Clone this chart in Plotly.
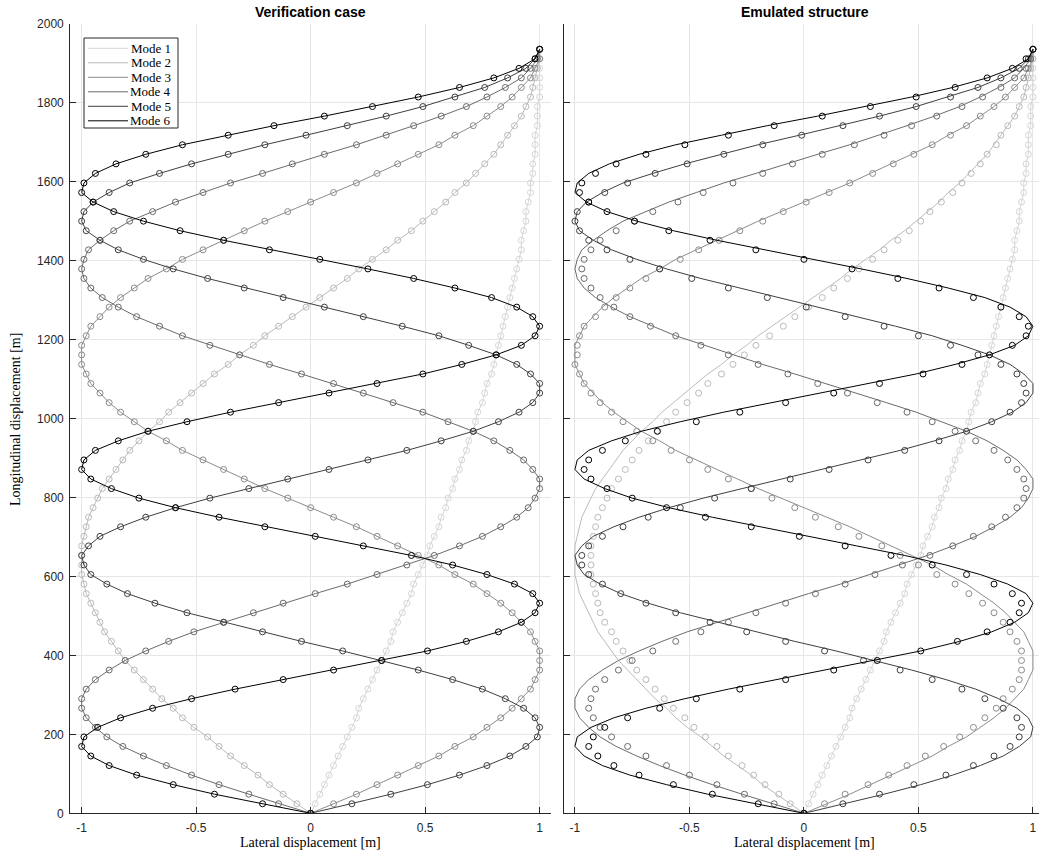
import plotly.graph_objects as go

# ---------------- data ----------------
# node heights along the structure [m]
HEIGHTS = [0.0, 24.2, 48.4, 72.6, 96.8, 121.0, 145.2, 169.4, 193.6, 217.8,
           242.0, 266.2, 290.4, 314.6, 338.8, 363.0, 387.2, 411.4, 435.6, 459.8,
           484.0, 508.2, 532.4, 556.6, 580.8, 605.0, 629.2, 653.4, 677.6, 701.8,
           726.0, 750.2, 774.4, 798.6, 822.8, 847.0, 871.2, 895.4, 919.6, 943.8,
           968.0, 992.2, 1016.4, 1040.6, 1064.8, 1089.0, 1113.2, 1137.4, 1161.6, 1185.8,
           1210.0, 1234.2, 1258.4, 1282.6, 1306.8, 1331.0, 1355.2, 1379.4, 1403.6, 1427.8,
           1452.0, 1476.2, 1500.4, 1524.6, 1548.8, 1573.0, 1597.2, 1621.4, 1645.6, 1669.8,
           1694.0, 1718.2, 1742.4, 1766.6, 1790.8, 1815.0, 1839.2, 1863.4, 1887.6, 1911.8,
           1936.0]

# verification case mode shapes (lateral displacement [m])
VER_MODE1 = [0.00, 0.02, 0.04, 0.06, 0.08, 0.10, 0.12, 0.14, 0.16, 0.18,
             0.20, 0.21, 0.23, 0.25, 0.27, 0.29, 0.31, 0.33, 0.35, 0.36,
             0.38, 0.40, 0.42, 0.44, 0.45, 0.47, 0.49, 0.51, 0.52, 0.54,
             0.56, 0.57, 0.59, 0.60, 0.62, 0.63, 0.65, 0.66, 0.68, 0.69,
             0.71, 0.72, 0.73, 0.75, 0.76, 0.77, 0.79, 0.80, 0.81, 0.82,
             0.83, 0.84, 0.85, 0.86, 0.87, 0.88, 0.89, 0.90, 0.91, 0.92,
             0.92, 0.93, 0.94, 0.94, 0.95, 0.96, 0.96, 0.97, 0.97, 0.98,
             0.98, 0.98, 0.99, 0.99, 0.99, 1.00, 1.00, 1.00, 1.00, 1.00,
             1.00]
VER_MODE2 = [0.00, -0.06, -0.12, -0.18, -0.23, -0.29, -0.35, -0.40, -0.45, -0.51,
             -0.56, -0.60, -0.65, -0.69, -0.73, -0.77, -0.81, -0.84, -0.87, -0.90,
             -0.92, -0.94, -0.96, -0.98, -0.99, -1.00, -1.00, -1.00, -1.00, -0.99,
             -0.98, -0.97, -0.95, -0.93, -0.91, -0.88, -0.85, -0.82, -0.79, -0.75,
             -0.71, -0.66, -0.62, -0.57, -0.52, -0.47, -0.42, -0.36, -0.31, -0.25,
             -0.20, -0.14, -0.08, -0.02, 0.04, 0.10, 0.16, 0.21, 0.27, 0.33,
             0.38, 0.44, 0.49, 0.54, 0.59, 0.63, 0.68, 0.72, 0.76, 0.80,
             0.83, 0.86, 0.89, 0.92, 0.94, 0.96, 0.97, 0.98, 0.99, 1.00,
             1.00]
VER_MODE3 = [0.00, 0.10, 0.20, 0.29, 0.38, 0.47, 0.56, 0.63, 0.71, 0.77,
             0.83, 0.88, 0.92, 0.96, 0.98, 1.00, 1.00, 1.00, 0.98, 0.96,
             0.92, 0.88, 0.83, 0.77, 0.71, 0.63, 0.56, 0.47, 0.38, 0.29,
             0.20, 0.10, 0.00, -0.10, -0.20, -0.29, -0.38, -0.47, -0.56, -0.63,
             -0.71, -0.77, -0.83, -0.88, -0.92, -0.96, -0.98, -1.00, -1.00, -1.00,
             -0.98, -0.96, -0.92, -0.88, -0.83, -0.77, -0.71, -0.63, -0.56, -0.47,
             -0.38, -0.29, -0.20, -0.10, 0.00, 0.10, 0.20, 0.29, 0.38, 0.47,
             0.56, 0.63, 0.71, 0.77, 0.83, 0.88, 0.92, 0.96, 0.98, 1.00,
             1.00]
VER_MODE4 = [0.00, -0.14, -0.27, -0.40, -0.52, -0.63, -0.73, -0.82, -0.89, -0.94,
             -0.98, -1.00, -1.00, -0.98, -0.94, -0.88, -0.81, -0.72, -0.62, -0.51,
             -0.38, -0.25, -0.12, 0.02, 0.16, 0.29, 0.42, 0.54, 0.65, 0.75,
             0.83, 0.90, 0.95, 0.98, 1.00, 1.00, 0.97, 0.93, 0.87, 0.80,
             0.71, 0.60, 0.49, 0.36, 0.23, 0.10, -0.04, -0.18, -0.31, -0.44,
             -0.56, -0.66, -0.76, -0.84, -0.91, -0.96, -0.99, -1.00, -0.99, -0.97,
             -0.92, -0.86, -0.79, -0.69, -0.59, -0.47, -0.35, -0.21, -0.08, 0.06,
             0.20, 0.33, 0.45, 0.57, 0.68, 0.77, 0.85, 0.92, 0.96, 0.99,
             1.00]
VER_MODE5 = [0.00, 0.18, 0.35, 0.51, 0.65, 0.77, 0.87, 0.94, 0.99, 1.00,
             0.98, 0.93, 0.85, 0.75, 0.62, 0.47, 0.31, 0.14, -0.04, -0.21,
             -0.38, -0.54, -0.68, -0.80, -0.89, -0.96, -0.99, -1.00, -0.97, -0.92,
             -0.83, -0.72, -0.59, -0.44, -0.27, -0.10, 0.08, 0.25, 0.42, 0.57,
             0.71, 0.82, 0.91, 0.97, 1.00, 1.00, 0.96, 0.90, 0.81, 0.69,
             0.56, 0.40, 0.23, 0.06, -0.12, -0.29, -0.45, -0.60, -0.73, -0.84,
             -0.92, -0.98, -1.00, -0.99, -0.95, -0.88, -0.79, -0.66, -0.52, -0.36,
             -0.20, -0.02, 0.16, 0.33, 0.49, 0.63, 0.76, 0.86, 0.94, 0.98,
             1.00]
VER_MODE6 = [0.00, -0.21, -0.42, -0.60, -0.76, -0.88, -0.96, -1.00, -0.99, -0.93,
             -0.83, -0.69, -0.52, -0.33, -0.12, 0.10, 0.31, 0.51, 0.68, 0.82,
             0.92, 0.98, 1.00, 0.97, 0.89, 0.77, 0.62, 0.44, 0.23, 0.02,
             -0.20, -0.40, -0.59, -0.75, -0.87, -0.96, -1.00, -0.99, -0.94, -0.84,
             -0.71, -0.54, -0.35, -0.14, 0.08, 0.29, 0.49, 0.66, 0.81, 0.92,
             0.98, 1.00, 0.97, 0.90, 0.79, 0.63, 0.45, 0.25, 0.04, -0.18,
             -0.38, -0.57, -0.73, -0.86, -0.95, -1.00, -0.99, -0.94, -0.85, -0.72,
             -0.56, -0.36, -0.16, 0.06, 0.27, 0.47, 0.65, 0.80, 0.91, 0.98,
             1.00]

# emulated structure: identified mode shapes (markers in right panel)
EMU_MODE1 = [0.00, 0.02, 0.04, 0.06, 0.08, 0.10, 0.12, 0.14, 0.16, 0.18,
             0.20, 0.21, 0.23, 0.25, 0.27, 0.29, 0.31, 0.33, 0.35, 0.36,
             0.38, 0.40, 0.42, 0.44, 0.45, 0.47, 0.49, 0.51, 0.52, 0.54,
             0.56, 0.57, 0.59, 0.60, 0.62, 0.63, 0.65, 0.66, 0.68, 0.69,
             0.71, 0.72, 0.73, 0.75, 0.76, 0.77, 0.79, 0.80, 0.81, 0.82,
             0.83, 0.84, 0.85, 0.86, 0.87, 0.88, 0.89, 0.90, 0.91, 0.92,
             0.92, 0.93, 0.94, 0.94, 0.95, 0.96, 0.96, 0.97, 0.97, 0.98,
             0.98, 0.98, 0.99, 0.99, 0.99, 1.00, 1.00, 1.00, 1.00, 1.00,
             1.00]
EMU_MODE2 = [0.00, -0.06, -0.11, -0.17, -0.22, -0.27, -0.33, -0.38, -0.43, -0.48,
             -0.52, -0.57, -0.61, -0.65, -0.69, -0.73, -0.76, -0.79, -0.82, -0.84,
             -0.87, -0.89, -0.90, -0.91, -0.92, -0.93, -0.93, -0.93, -0.93, -0.92,
             -0.91, -0.90, -0.88, -0.86, -0.84, -0.81, -0.78, -0.75, -0.72, -0.68,
             -0.64, -0.60, -0.56, -0.51, -0.46, -0.42, -0.36, -0.31, -0.26, -0.21,
             -0.15, -0.09, -0.04, 0.02, 0.08, 0.13, 0.19, 0.24, 0.30, 0.35,
             0.41, 0.46, 0.51, 0.55, 0.60, 0.65, 0.69, 0.73, 0.77, 0.80,
             0.84, 0.86, 0.89, 0.92, 0.94, 0.96, 0.97, 0.98, 0.99, 1.00,
             1.00]
EMU_MODE3 = [0.00, 0.09, 0.18, 0.28, 0.37, 0.45, 0.53, 0.61, 0.68, 0.74,
             0.79, 0.84, 0.87, 0.91, 0.94, 0.95, 0.95, 0.95, 0.93, 0.90,
             0.87, 0.83, 0.78, 0.72, 0.66, 0.58, 0.50, 0.42, 0.34, 0.24,
             0.15, 0.05, -0.04, -0.14, -0.23, -0.33, -0.42, -0.50, -0.58, -0.66,
             -0.73, -0.79, -0.84, -0.89, -0.93, -0.96, -0.98, -1.00, -0.99, -0.99,
             -0.98, -0.96, -0.91, -0.87, -0.82, -0.76, -0.69, -0.63, -0.54, -0.46,
             -0.37, -0.28, -0.18, -0.09, 0.01, 0.11, 0.20, 0.30, 0.39, 0.48,
             0.56, 0.64, 0.71, 0.77, 0.83, 0.88, 0.92, 0.96, 0.98, 0.99,
             1.00]
EMU_MODE4 = [0.00, -0.13, -0.26, -0.38, -0.50, -0.60, -0.69, -0.77, -0.84, -0.89,
             -0.92, -0.94, -0.93, -0.91, -0.87, -0.81, -0.75, -0.66, -0.56, -0.45,
             -0.33, -0.21, -0.08, 0.05, 0.18, 0.31, 0.43, 0.55, 0.65, 0.74,
             0.82, 0.88, 0.93, 0.96, 0.97, 0.96, 0.93, 0.89, 0.83, 0.75,
             0.66, 0.56, 0.45, 0.32, 0.19, 0.06, -0.07, -0.20, -0.33, -0.45,
             -0.56, -0.67, -0.76, -0.83, -0.89, -0.93, -0.96, -0.97, -0.96, -0.93,
             -0.89, -0.82, -0.74, -0.66, -0.55, -0.44, -0.31, -0.18, -0.05, 0.08,
             0.22, 0.35, 0.47, 0.58, 0.69, 0.78, 0.86, 0.92, 0.97, 0.99,
             1.00]
EMU_MODE5 = [0.00, 0.17, 0.33, 0.48, 0.62, 0.74, 0.83, 0.90, 0.94, 0.95,
             0.93, 0.87, 0.79, 0.69, 0.56, 0.42, 0.26, 0.09, -0.08, -0.25,
             -0.41, -0.56, -0.69, -0.80, -0.88, -0.94, -0.97, -0.97, -0.94, -0.88,
             -0.79, -0.68, -0.54, -0.39, -0.23, -0.06, 0.11, 0.28, 0.44, 0.59,
             0.71, 0.82, 0.90, 0.95, 0.97, 0.96, 0.93, 0.86, 0.76, 0.64,
             0.50, 0.35, 0.18, 0.01, -0.16, -0.33, -0.49, -0.63, -0.76, -0.86,
             -0.94, -0.98, -1.00, -0.99, -0.94, -0.87, -0.77, -0.65, -0.51, -0.35,
             -0.18, -0.01, 0.17, 0.33, 0.49, 0.64, 0.76, 0.86, 0.94, 0.98,
             1.00]
EMU_MODE6 = [0.00, -0.20, -0.40, -0.57, -0.72, -0.83, -0.90, -0.94, -0.92, -0.87,
             -0.77, -0.63, -0.47, -0.28, -0.08, 0.13, 0.32, 0.51, 0.67, 0.80,
             0.90, 0.94, 0.95, 0.91, 0.83, 0.71, 0.56, 0.38, 0.18, -0.02,
             -0.23, -0.43, -0.60, -0.75, -0.86, -0.93, -0.96, -0.94, -0.88, -0.78,
             -0.64, -0.47, -0.28, -0.08, 0.13, 0.33, 0.52, 0.69, 0.81, 0.91,
             0.97, 0.98, 0.94, 0.86, 0.74, 0.59, 0.41, 0.21, 0.00, -0.21,
             -0.41, -0.59, -0.74, -0.86, -0.94, -0.98, -0.97, -0.91, -0.82, -0.69,
             -0.52, -0.33, -0.13, 0.08, 0.29, 0.49, 0.66, 0.80, 0.91, 0.97,
             1.00]

MODE_NAMES = ["Mode 1", "Mode 2", "Mode 3", "Mode 4", "Mode 5", "Mode 6"]
X_TICKS = [-1, -0.5, 0, 0.5, 1]
X_TICK_TEXT = ["-1", "-0.5", "0", "0.5", "1"]
Y_TICKS = [0, 200, 400, 600, 800, 1000, 1200, 1400, 1600, 1800, 2000]

# ---------------- style ----------------
COLORS = ["#d6d6d6", "#bababa", "#8c8c8c", "#6b6b6b", "#3f3f3f", "#000000"]
W, Hh = 1039, 861
AX_COL = "#262626"
GRID_COL = "#e6e6e6"

VER = [VER_MODE1, VER_MODE2, VER_MODE3, VER_MODE4, VER_MODE5, VER_MODE6]
EMU = [EMU_MODE1, EMU_MODE2, EMU_MODE3, EMU_MODE4, EMU_MODE5, EMU_MODE6]

fig = go.Figure()

for i in range(6):
    fig.add_trace(go.Scatter(x=VER[i], y=HEIGHTS, mode="lines", name=MODE_NAMES[i],
                             line=dict(color=COLORS[i], width=1),
                             xaxis="x", yaxis="y", showlegend=False))
    fig.add_trace(go.Scatter(x=VER[i], y=HEIGHTS, mode="markers", showlegend=False,
                             marker=dict(symbol="circle-open", size=6, color=COLORS[i],
                                         line=dict(width=1, color=COLORS[i])),
                             xaxis="x", yaxis="y", hoverinfo="skip"))

for i in range(6):
    fig.add_trace(go.Scatter(x=VER[i], y=HEIGHTS, mode="lines", showlegend=False,
                             line=dict(color=COLORS[i], width=1),
                             xaxis="x2", yaxis="y2"))
    fig.add_trace(go.Scatter(x=EMU[i], y=HEIGHTS, mode="markers", showlegend=False,
                             marker=dict(symbol="circle-open", size=6, color=COLORS[i],
                                         line=dict(width=1, color=COLORS[i])),
                             xaxis="x2", yaxis="y2", hoverinfo="skip"))

left_dom = [70.2 / W, 551.1 / W]
right_dom = [563.5 / W, 1.0]
y_dom = [(Hh - 813.3) / Hh, (Hh - 24.0) / Hh]
unit = (551.1 - 70.2) / 2.1
right_max = -1.05 + (W - 563.5) / unit

common_x = dict(tickvals=X_TICKS, ticktext=X_TICK_TEXT, ticks="inside", ticklen=6,
                tickcolor=AX_COL, tickwidth=1, showline=True, linecolor=AX_COL,
                linewidth=1, showgrid=True, gridcolor=GRID_COL, gridwidth=1,
                zeroline=False, automargin=False, ticklabelstandoff=3,
                tickfont=dict(family="Liberation Sans", size=12, color=AX_COL))
common_y = dict(tickvals=Y_TICKS, ticks="inside", ticklen=6, tickcolor=AX_COL, tickwidth=1,
                showline=True, linecolor=AX_COL, linewidth=1, showgrid=True,
                gridcolor=GRID_COL, gridwidth=1, zeroline=False, range=[0, 2000],
                automargin=False, ticklabelstandoff=3,
                tickfont=dict(family="Liberation Sans", size=12, color=AX_COL))

# hand-drawn legend (compact like the reference)
px = lambda v: v / W
py = lambda v: (Hh - v) / Hh
shapes = [dict(type="rect", xref="paper", yref="paper", x0=px(84), x1=px(178),
               y0=py(128), y1=py(38), line=dict(color=AX_COL, width=1),
               fillcolor="white", layer="above")]
annotations = []
for i in range(6):
    yy = 48.3 + 14.5 * i
    shapes.append(dict(type="line", xref="paper", yref="paper", x0=px(88), x1=px(128),
                       y0=py(yy), y1=py(yy), line=dict(color=COLORS[i], width=1),
                       layer="above"))
    annotations.append(dict(text=MODE_NAMES[i], x=px(173), y=py(yy), xref="paper",
                            yref="paper", showarrow=False, xanchor="right",
                            yanchor="middle",
                            font=dict(family="Liberation Serif", size=13, color="#000000")))

annotations += [
    dict(text="<b>Verification case</b>", x=px((70.2 + 551.1) / 2), y=py(12),
         xref="paper", yref="paper", showarrow=False, xanchor="center", yanchor="middle",
         font=dict(family="Liberation Sans", size=14, color="#000000")),
    dict(text="<b>Emulated structure</b>", x=px(804.5), y=py(12),
         xref="paper", yref="paper", showarrow=False, xanchor="center", yanchor="middle",
         font=dict(family="Liberation Sans", size=14, color="#000000")),
    dict(text="Lateral displacement [m]", x=px((70.2 + 551.1) / 2), y=py(842),
         xref="paper", yref="paper", showarrow=False, xanchor="center", yanchor="middle",
         font=dict(family="Liberation Serif", size=14, color="#000000")),
    dict(text="Lateral displacement [m]", x=px(804.5), y=py(842),
         xref="paper", yref="paper", showarrow=False, xanchor="center", yanchor="middle",
         font=dict(family="Liberation Serif", size=14, color="#000000")),
    dict(text="Longitudinal displacement [m]", x=px(15), y=py(420),
         xref="paper", yref="paper", showarrow=False, xanchor="center", yanchor="middle",
         textangle=-90, font=dict(family="Liberation Serif", size=14, color="#000000")),
]

fig.update_layout(
    template="none",
    width=W, height=Hh, autosize=False,
    margin=dict(l=0, r=0, t=0, b=0, pad=0),
    paper_bgcolor="white", plot_bgcolor="white",
    showlegend=False,
    xaxis=dict(domain=left_dom, range=[-1.05, 1.05], anchor="y", **common_x),
    yaxis=dict(domain=y_dom, anchor="x", **common_y),
    xaxis2=dict(domain=right_dom, range=[-1.05, right_max], anchor="y2", **common_x),
    yaxis2=dict(domain=y_dom, anchor="x2", showticklabels=False, **common_y),
    shapes=shapes,
    annotations=annotations,
)

fig.write_html("out.html", config={"displayModeBar": False},
               post_script="document.body.style.margin='0';document.body.style.overflow='hidden';")
